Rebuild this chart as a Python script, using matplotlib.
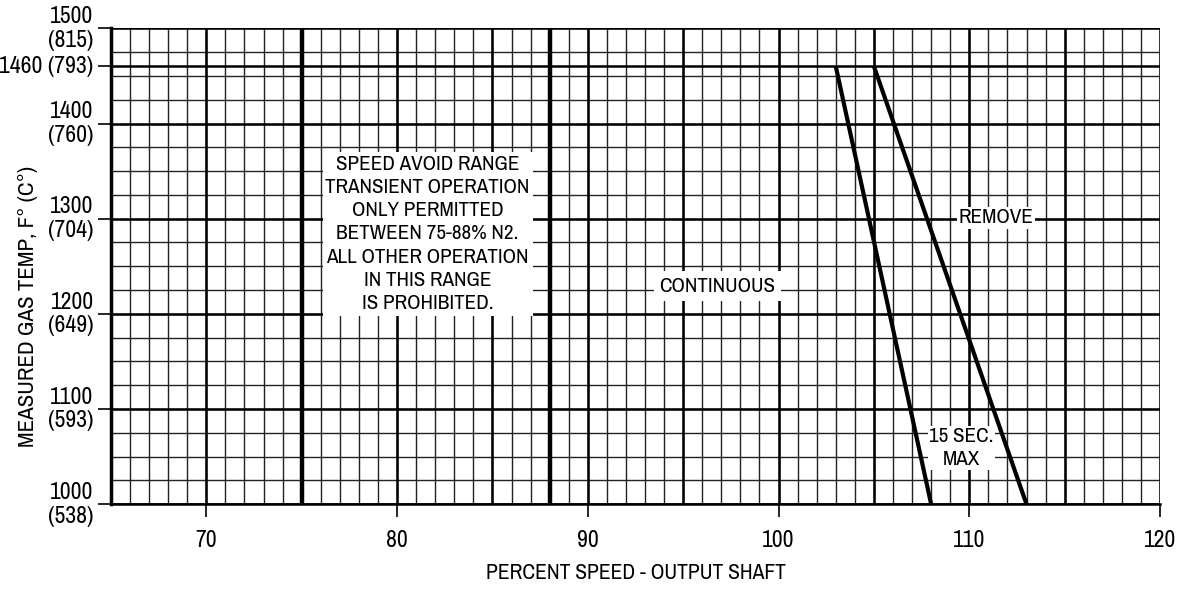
import matplotlib
matplotlib.use("Agg")
import matplotlib.pyplot as plt
import numpy as np
from matplotlib import font_manager

fams = {f.name for f in font_manager.fontManager.ttflist}
pref = [f for f in ['Liberation Sans Narrow', 'Nimbus Sans Narrow', 'Archivo Narrow',
                    'Roboto Condensed'] if f in fams]
plt.rcParams['font.family'] = pref[:1] + ['DejaVu Sans']

# Data
x_lim = (65, 120)
y_lim = (1000, 1500)
x_minor = np.arange(65, 121, 1)
x_major = np.arange(65, 121, 5)
x_heavy = [75, 88]
y_minor = np.arange(1000, 1501, 25)
y_major = [1000, 1100, 1200, 1300, 1400, 1460, 1500]
x_ticks = [70, 80, 90, 100, 110, 120]
y_ticks = [1000, 1100, 1200, 1300, 1400, 1460, 1500]
y_ticklabels = ["1000\n(538)", "1100\n(593)", "1200\n(649)", "1300\n(704)",
                "1400\n(760)", "1460 (793)", "1500\n(815)"]
continuous_line_x = [103, 108]
continuous_line_y = [1460, 1000]
remove_line_x = [105, 113]
remove_line_y = [1460, 1000]

fig = plt.figure(figsize=(11.83, 5.90), dpi=100)
ax = fig.add_axes([0.0938, 0.1453, 0.8868, 0.8067])
ax.set_xlim(*x_lim)
ax.set_ylim(*y_lim)

for x in x_minor:
    ax.axvline(x, color='#222222', lw=1.0, zorder=1)
for y in y_minor:
    ax.axhline(y, color='#222222', lw=1.0, zorder=1)
for x in x_major:
    ax.axvline(x, color='black', lw=1.8, zorder=1.5)
for y in y_major:
    ax.axhline(y, color='black', lw=1.8, zorder=1.5)
for x in x_heavy:
    ax.axvline(x, color='black', lw=3.2, zorder=1.6)

ax.plot(continuous_line_x, continuous_line_y, color='black', lw=3.0, zorder=4,
        solid_capstyle='butt')
ax.plot(remove_line_x, remove_line_y, color='black', lw=3.0, zorder=4,
        solid_capstyle='butt')

box = dict(facecolor='white', edgecolor='none', pad=2)
fs = 15.2
ax.text(81.6, 1284, "SPEED AVOID RANGE\nTRANSIENT OPERATION\nONLY PERMITTED\n"
        "BETWEEN 75-88% N2.\nALL OTHER OPERATION\nIN THIS RANGE\nIS PROHIBITED.",
        ha='center', va='center', fontsize=fs, linespacing=1.28, bbox=box, zorder=5)
ax.text(96.8, 1229, "CONTINUOUS", ha='center', va='center', fontsize=fs,
        bbox=dict(facecolor='white', edgecolor='none', pad=4), zorder=5)
ax.text(111.4, 1301, "REMOVE", ha='center', va='center', fontsize=fs,
        bbox=dict(facecolor='white', edgecolor='none', pad=1), zorder=5)
ax.text(109.6, 1059, "15 SEC.\nMAX", ha='center', va='center', fontsize=fs,
        linespacing=1.25, bbox=dict(facecolor='white', edgecolor='none', pad=1), zorder=5)

ax.set_xticks(x_ticks)
ax.set_xticklabels([str(v) for v in x_ticks], fontsize=17)
ax.set_yticks(y_ticks)
ax.set_yticklabels(y_ticklabels, fontsize=17, linespacing=1.15)
for lab in ax.get_yticklabels():
    lab.set_verticalalignment('center')
ax.tick_params(axis='x', length=9.5, width=1.2, pad=9, direction='out')
ax.tick_params(axis='y', length=9.5, width=1.2, pad=3, direction='out')

for s in ['top', 'right']:
    ax.spines[s].set_visible(False)
ax.spines['left'].set_linewidth(2.5)
ax.spines['bottom'].set_linewidth(1.8)

ax.set_xlabel("PERCENT SPEED - OUTPUT SHAFT", fontsize=15.5, va='center')
ax.xaxis.set_label_coords(0.5, -0.144)
ax.set_ylabel("MEASURED GAS TEMP, F° (C°)", fontsize=16.5, va='center')
ax.yaxis.set_label_coords(-0.079, 0.415)

fig.savefig("out.png", dpi=100, facecolor='white')
